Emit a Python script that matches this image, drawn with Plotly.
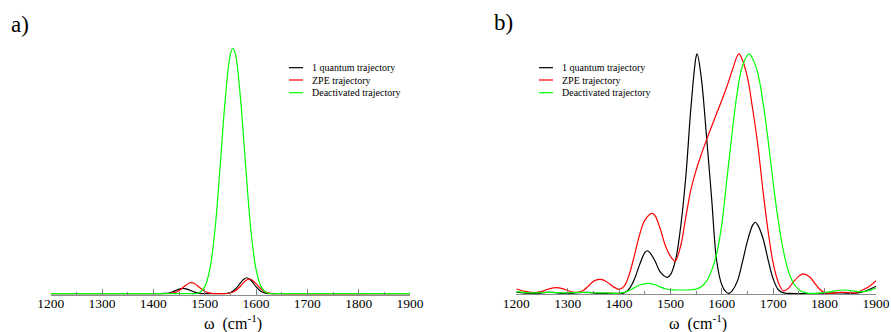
import plotly.graph_objects as go

series_names = ["1 quantum trajectory", "ZPE trajectory", "Deactivated trajectory"]
series_colors = ["#000000", "#ff0000", "#00ff00"]

# ---- panel a) spectra: frequency (cm^-1) and normalised intensity ----
a_one_quantum_w = [1200, 1400, 1410, 1420, 1430, 1440, 1450, 1458, 1465, 1470, 1480, 1490, 1500,
                   1510, 1530, 1540, 1550, 1560, 1570, 1576, 1582, 1590, 1600, 1610, 1620, 1630,
                   1640, 1900]
a_one_quantum = [0.0, 0.0, 0.0, 0.001, 0.003, 0.0097, 0.0187, 0.022, 0.019, 0.0153, 0.0064, 0.0016,
                 0.0003, 0.0, 0.0, 0.0007, 0.0048, 0.019, 0.045, 0.059, 0.065, 0.055, 0.029, 0.0088,
                 0.0016, 0.0002, 0.0, 0.0]

a_zpe_w = [1200, 1410, 1420, 1430, 1440, 1450, 1460, 1470, 1474, 1480, 1490, 1500, 1510, 1520,
           1530, 1540, 1550, 1560, 1570, 1580, 1587, 1590, 1600, 1610, 1620, 1630, 1640, 1900]
a_zpe = [0.0, 0.0, 0.0, 0.0006, 0.0035, 0.0125, 0.029, 0.0434, 0.045, 0.0415, 0.0255, 0.010,
         0.0025, 0.0004, 0.0, 0.0004, 0.0029, 0.0119, 0.0316, 0.0538, 0.060, 0.0588, 0.0412,
         0.0185, 0.0053, 0.001, 0.0, 0.0]

a_deactivated_w = [1200, 1470, 1480, 1490, 1500, 1510, 1520, 1530, 1540, 1550, 1555, 1560, 1570,
                   1580, 1590, 1600, 1610, 1620, 1630, 1640, 1900]
a_deactivated = [0.0, 0.0, 0.0, 0.005, 0.028, 0.10, 0.26, 0.515, 0.79, 0.975, 1.0, 0.975, 0.79,
                 0.515, 0.26, 0.10, 0.028, 0.005, 0.0, 0.0, 0.0]

# ---- panel b) spectra: frequency (cm^-1) and normalised intensity ----
b_one_quantum_w = [1200, 1210, 1220, 1230, 1240, 1250, 1260, 1270, 1280, 1290,
                   1300, 1310, 1320, 1330, 1340, 1350, 1360, 1380, 1400, 1410,
                   1420, 1430, 1440, 1450, 1455, 1460, 1470, 1480, 1494, 1500,
                   1510, 1520, 1530, 1540, 1550, 1552, 1560, 1570, 1580, 1590,
                   1600, 1608, 1614, 1620, 1630, 1640, 1650, 1660, 1665, 1670,
                   1680, 1690, 1700, 1710, 1720, 1730, 1800, 1810, 1820, 1830,
                   1840, 1850, 1860, 1870, 1880, 1890, 1900]
b_one_quantum = [0.005, 0.003, 0.001, 0.0, 0.0, 0.002, 0.004, 0.004, 0.002, 0.0,
                 0.0, 0.001, 0.003, 0.004, 0.004, 0.002, 0.0, 0.0, 0.0, 0.002,
                 0.02, 0.06, 0.12, 0.17, 0.178, 0.17, 0.135, 0.09, 0.067, 0.078,
                 0.14, 0.28, 0.49, 0.78, 0.99, 1.0, 0.90, 0.66, 0.40, 0.135,
                 0.035, 0.006, 0.0, 0.01, 0.05, 0.13, 0.22, 0.285, 0.297, 0.285,
                 0.23, 0.14, 0.06, 0.015, 0.002, 0.0, 0.0, 0.001, 0.002, 0.002,
                 0.001, 0.0, 0.001, 0.004, 0.01, 0.019, 0.03]

b_zpe_w = [1200, 1210, 1220, 1230, 1240, 1250, 1260, 1270, 1277, 1290,
           1300, 1310, 1318, 1330, 1340, 1350, 1362, 1370, 1380, 1390,
           1400, 1410, 1420, 1430, 1440, 1450, 1464, 1470, 1480, 1490,
           1500, 1509, 1520, 1530, 1540, 1550, 1560, 1570, 1580, 1590,
           1600, 1610, 1620, 1633, 1640, 1650, 1660, 1670, 1680, 1690,
           1700, 1710, 1720, 1730, 1740, 1750, 1758, 1770, 1780, 1790,
           1800, 1810, 1820, 1830, 1840, 1850, 1860, 1870, 1880, 1890,
           1900]
b_zpe = [0.018, 0.012, 0.007, 0.004, 0.004, 0.008, 0.016, 0.022, 0.024, 0.02,
         0.012, 0.005, 0.004, 0.012, 0.03, 0.05, 0.058, 0.055, 0.042, 0.026,
         0.017, 0.03, 0.08, 0.16, 0.245, 0.305, 0.334, 0.325, 0.27, 0.2,
         0.155, 0.135, 0.2, 0.32, 0.435, 0.515, 0.58, 0.64, 0.697, 0.752,
         0.807, 0.865, 0.93, 1.0, 0.975, 0.90, 0.77, 0.62, 0.43, 0.26,
         0.125, 0.045, 0.01, 0.022, 0.05, 0.072, 0.081, 0.07, 0.045, 0.018,
         0.003, 0.0, 0.002, 0.004, 0.004, 0.002, 0.002, 0.01, 0.02, 0.034,
         0.053]

b_deactivated_w = [1200, 1210, 1220, 1230, 1240, 1250, 1260, 1270, 1280, 1290,
                   1300, 1310, 1320, 1330, 1340, 1350, 1360, 1370, 1380, 1390,
                   1400, 1410, 1420, 1430, 1440, 1456, 1470, 1480, 1490, 1500,
                   1510, 1520, 1530, 1540, 1550, 1560, 1570, 1580, 1590, 1600,
                   1610, 1620, 1630, 1640, 1653, 1660, 1670, 1680, 1690, 1700,
                   1710, 1720, 1730, 1740, 1750, 1760, 1770, 1780, 1790, 1800,
                   1810, 1820, 1830, 1840, 1850, 1860, 1870, 1880, 1890, 1900]
b_deactivated = [0.007, 0.005, 0.003, 0.002, 0.002, 0.003, 0.004, 0.004, 0.003, 0.002,
                 0.002, 0.003, 0.004, 0.004, 0.003, 0.002, 0.002, 0.002, 0.001, 0.0,
                 0.0, 0.004, 0.012, 0.024, 0.035, 0.042, 0.036, 0.027, 0.019, 0.015,
                 0.014, 0.014, 0.014, 0.015, 0.018, 0.028, 0.05, 0.095, 0.165, 0.29,
                 0.48, 0.67, 0.84, 0.95, 1.0, 0.98, 0.92, 0.80, 0.64, 0.46,
                 0.30, 0.175, 0.09, 0.04, 0.015, 0.004, 0.0, 0.0, 0.001, 0.003,
                 0.006, 0.01, 0.013, 0.014, 0.012, 0.008, 0.006, 0.008, 0.014, 0.022]

panel_a = [(a_one_quantum_w, a_one_quantum), (a_zpe_w, a_zpe), (a_deactivated_w, a_deactivated)]
panel_b = [(b_one_quantum_w, b_one_quantum), (b_zpe_w, b_zpe), (b_deactivated_w, b_deactivated)]

tick_values = [1200, 1300, 1400, 1500, 1600, 1700, 1800, 1900]

W, H = 891, 332
SERIF = "Liberation Serif, Times New Roman, DejaVu Serif, serif"


def px_x(x):
    return x / W


def px_y(y):
    return 1 - y / H


fig = go.Figure()

for (w, values), name, color in zip(panel_a, series_names, series_colors):
    fig.add_trace(go.Scatter(x=w, y=values, name=name, mode="lines",
                             line=dict(color=color, width=1.2, shape="spline", smoothing=1.0),
                             xaxis="x", yaxis="y", showlegend=False))
for (w, values), name, color in zip(panel_b, series_names, series_colors):
    fig.add_trace(go.Scatter(x=w, y=values, name=name, mode="lines",
                             line=dict(color=color, width=1.2, shape="spline", smoothing=1.0),
                             xaxis="x2", yaxis="y2", showlegend=False))

x_common = dict(
    range=[1200, 1900],
    tickmode="array",
    tickvals=tick_values,
    ticks="inside", ticklen=6, tickwidth=1, tickcolor="#808080",
    minor=dict(ticks="inside", ticklen=3, tickwidth=1, tickcolor="#808080", dtick=50, showgrid=False),
    showline=True, linecolor="#8c8c8c", linewidth=1.3,
    showgrid=False, zeroline=False, automargin=False,
    ticklabelstandoff=-4,
    tickfont=dict(family=SERIF, size=13.5, color="#000000"),
)
y_common = dict(visible=False, showgrid=False, zeroline=False, automargin=False, range=[-0.004, 1.05])

fig.update_layout(
    width=W, height=H,
    margin=dict(l=0, r=0, t=0, b=0, autoexpand=False),
    paper_bgcolor="white", plot_bgcolor="white",
    xaxis=dict(domain=[px_x(50.7), px_x(410)], anchor="y", **x_common),
    xaxis2=dict(domain=[px_x(516.3), px_x(876)], anchor="y2", **x_common),
    yaxis=dict(domain=[px_y(294.7), px_y(36.0)], anchor="x", **y_common),
    yaxis2=dict(domain=[px_y(294.3), px_y(42.0)], anchor="x2", **y_common),
)

axis_title = "ω  (cm<sup>-1</sup>)"
annotations = [
    dict(text="a)", x=px_x(9), y=px_y(24), xref="paper", yref="paper",
         xanchor="left", yanchor="middle", showarrow=False,
         font=dict(family=SERIF, size=23, color="#000000")),
    dict(text="b)", x=px_x(492), y=px_y(22), xref="paper", yref="paper",
         xanchor="left", yanchor="middle", showarrow=False,
         font=dict(family=SERIF, size=23, color="#000000")),
    dict(text=axis_title, x=px_x(233), y=px_y(322), xref="paper", yref="paper",
         xanchor="center", yanchor="middle", showarrow=False,
         font=dict(family=SERIF, size=16, color="#000000")),
    dict(text=axis_title, x=px_x(698), y=px_y(322), xref="paper", yref="paper",
         xanchor="center", yanchor="middle", showarrow=False,
         font=dict(family=SERIF, size=16, color="#000000")),
]
shapes = []

# Legend entries drawn as short line keys followed by labels
legend_rows = [67.7, 80.0, 92.7]
for key_x0, key_x1, text_x in [(289, 303, 310), (539, 553, 559.7)]:
    for row_y, name, color in zip(legend_rows, series_names, series_colors):
        shapes.append(dict(type="line", xref="paper", yref="paper",
                           x0=px_x(key_x0), x1=px_x(key_x1), y0=px_y(row_y), y1=px_y(row_y),
                           line=dict(color=color, width=1.2)))
        annotations.append(dict(text=name, x=px_x(text_x), y=px_y(row_y), xref="paper", yref="paper",
                                xanchor="left", yanchor="middle", showarrow=False,
                                font=dict(family=SERIF, size=10, color="#000000")))

fig.update_layout(annotations=annotations, shapes=shapes)

fig.write_html("out.html")
